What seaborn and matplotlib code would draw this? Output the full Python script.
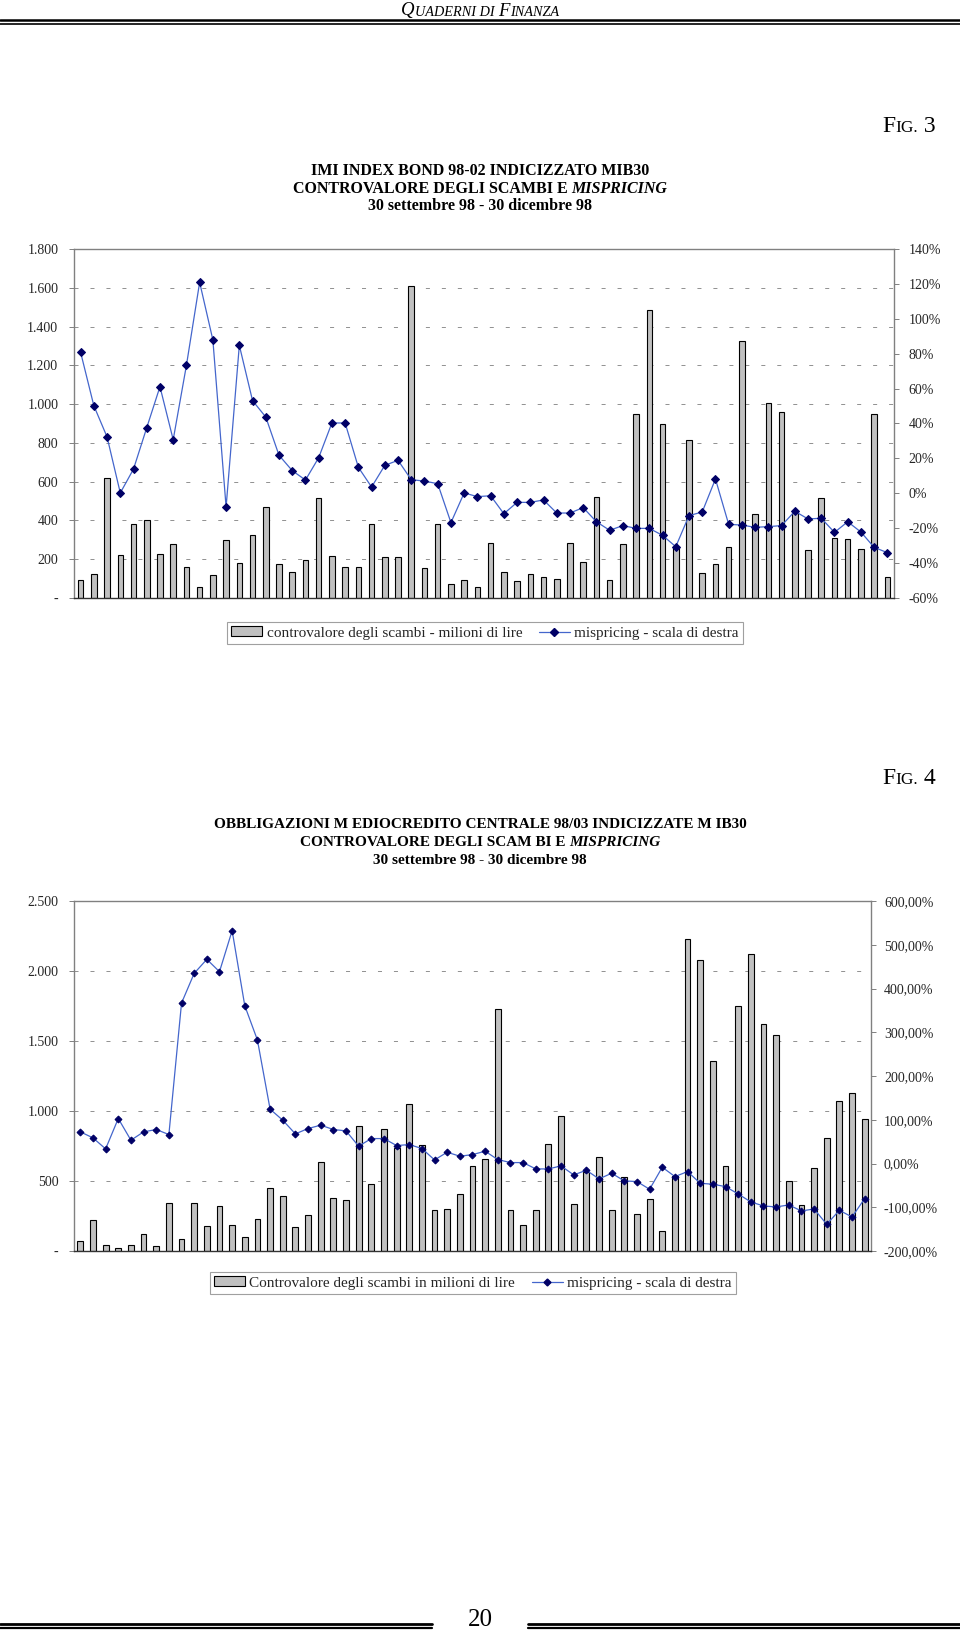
import numpy as np
import matplotlib
matplotlib.use("Agg")
import matplotlib.pyplot as plt
from matplotlib.patches import Patch
from matplotlib.lines import Line2D
from matplotlib.offsetbox import TextArea, HPacker, AnchoredOffsetbox
import seaborn as sns

# ---- data ----
# FIG. 3 - IMI Index Bond 98-02
vol3 = [91, 122, 619, 220, 380, 402, 225, 279, 158, 55,
        117, 301, 181, 323, 470, 175, 136, 194, 514, 215,
        158, 162, 380, 210, 210, 1611, 153, 380, 72, 95,
        55, 282, 136, 86, 122, 108, 100, 282, 184, 523,
        95, 279, 948, 1486, 898, 265, 817, 127, 175, 261,
        1326, 433, 1004, 960, 440, 248, 514, 308, 304, 251,
        948, 108]
mis3 = [80.8, 50.2, 32.3, 0.2, 13.9, 37.6, 61.1, 30.7, 73.3, 120.9,
        87.9, -7.9, 84.8, 53.1, 43.7, 21.8, 13.0, 7.6, 20.4, 40.3,
        40.3, 14.9, 3.6, 16.0, 18.9, 7.8, 7.0, 5.5, -16.8, 0.2,
        -1.9, -1.4, -11.7, -5.2, -5.2, -3.8, -11.3, -11.3, -8.2, -16.3,
        -21.2, -18.5, -20.1, -20.1, -24.1, -30.6, -12.8, -10.7, 8.2, -17.8,
        -18.2, -19.5, -19.1, -18.5, -10.3, -14.7, -14.3, -22.4, -16.3, -22.2,
        -31.0, -34.0]
vol3_ticks = [0, 200, 400, 600, 800, 1000, 1200, 1400, 1600, 1800]
vol3_labels = ["-", "200", "400", "600", "800", "1.000", "1.200", "1.400", "1.600", "1.800"]
mis3_ticks = [-60, -40, -20, 0, 20, 40, 60, 80, 100, 120, 140]
mis3_labels = ["-60%", "-40%", "-20%", "0%", "20%", "40%", "60%", "80%", "100%", "120%", "140%"]

# FIG. 4 - Obbligazioni Mediocredito Centrale 98/03
vol4 = [69, 224, 43, 21, 43, 124, 38, 346, 86, 346,
        176, 324, 188, 98, 231, 453, 393, 169, 255, 639,
        381, 362, 896, 477, 872, 736, 1053, 760, 291, 303,
        410, 610, 658, 1730, 295, 183, 295, 765, 963, 334,
        565, 674, 295, 531, 267, 374, 141, 534, 2226, 2076,
        1356, 608, 1752, 2124, 1625, 1542, 500, 329, 596, 808,
        1072, 1132, 946]
mis4 = [72.3, 58.6, 33.4, 102.8, 53.2, 72.3, 77.7, 66.2, 366.7, 434.6,
        466.7, 438.4, 532.3, 360.6, 282.1, 124.2, 99.0, 67.7, 79.9, 87.6,
        77.7, 74.6, 39.5, 57.0, 57.0, 41.0, 43.3, 34.2, 8.2, 25.8,
        16.6, 20.4, 28.0, 9.0, 2.1, 2.1, -12.4, -12.4, -5.5, -26.1,
        -15.4, -35.2, -22.3, -39.8, -41.3, -58.9, -8.5, -29.9, -18.5, -45.2,
        -47.4, -52.8, -69.6, -87.9, -97.0, -99.3, -94.7, -108.5, -103.9, -139.0,
        -107.0, -122.2, -80.2]
vol4_ticks = [0, 500, 1000, 1500, 2000, 2500]
vol4_labels = ["-", "500", "1.000", "1.500", "2.000", "2.500"]
mis4_ticks = [-200, -100, 0, 100, 200, 300, 400, 500, 600]
mis4_labels = ["-200,00%", "-100,00%", "0,00%", "100,00%", "200,00%",
               "300,00%", "400,00%", "500,00%", "600,00%"]

legend3 = ["controvalore degli scambi - milioni di lire", "mispricing - scala di destra"]
legend4 = ["Controvalore degli scambi in milioni di lire", "mispricing - scala di destra"]

# ---- style ----
sns.set_style("ticks")
plt.rcParams["font.family"] = ["Liberation Serif", "DejaVu Serif"]
plt.rcParams["lines.scale_dashes"] = False

BAR_FILL = "#c0c0c0"
LINE_C = "#4466cc"
MARK_C = "#000066"
FRAME_C = "#808080"
W, H = 960, 1630

fig = plt.figure(figsize=(W / 100, H / 100), dpi=100)


def fx(px):
    return px / W


def fy(py):
    return 1 - py / H


def panel(rect, vol, mis, vt, vl, mt, ml, bar_w, msize, rpad):
    ax = fig.add_axes(rect)
    n = len(vol)
    idx = np.arange(n)
    sns.barplot(x=idx, y=vol, ax=ax, color=BAR_FILL, edgecolor="black",
                linewidth=0.8, width=bar_w, saturation=1, errorbar=None)
    ax.set_axisbelow(True)
    ax.yaxis.grid(True, color="#909090", lw=0.7, linestyle=(0, (2.9, 8.6)))
    axr = ax.twinx()
    sns.lineplot(x=idx, y=mis, ax=axr, color=LINE_C, lw=0.9, marker="D",
                 markersize=msize, markerfacecolor=MARK_C, markeredgecolor=MARK_C)
    ax.set_xlim(-0.5, n - 0.5)
    ax.set_ylim(vt[0], vt[-1])
    axr.set_ylim(mt[0], mt[-1])
    ax.set_xticks([])
    ax.set_yticks(vt, vl)
    axr.set_yticks(mt, ml)
    ax.set_xlabel("")
    ax.set_ylabel("")
    axr.set_ylabel("")
    ax.tick_params(axis="y", left=True, direction="out", length=3.3, width=0.7,
                   color=FRAME_C, labelsize=10, pad=8)
    axr.tick_params(axis="y", right=True, direction="out", length=3.3, width=0.7,
                    color=FRAME_C, labelsize=10, pad=rpad)
    for s in ax.spines.values():
        s.set_visible(False)
    for k in ("top", "left", "right"):
        axr.spines[k].set_color(FRAME_C)
        axr.spines[k].set_linewidth(1.0)
    axr.spines["bottom"].set_color("#333333")
    axr.spines["bottom"].set_linewidth(1.0)
    return ax, axr


def legend(labels, center, msize):
    handles = [Patch(facecolor=BAR_FILL, edgecolor="black", linewidth=0.8),
               Line2D([], [], color=LINE_C, lw=0.9, marker="D", markersize=msize,
                      markerfacecolor=MARK_C, markeredgecolor=MARK_C)]
    lg = fig.legend(handles, labels, loc="center", bbox_to_anchor=center, ncol=2,
                    fontsize=11, frameon=True, fancybox=False, framealpha=1,
                    edgecolor="#a0a0a0", handlelength=2.0, handleheight=0.6,
                    handletextpad=0.3, columnspacing=1.1, borderpad=0.3)
    lg.get_frame().set_linewidth(0.8)


def packed(parts, xy, loc="center"):
    kids = [TextArea(t, textprops=p) for t, p in parts]
    box = HPacker(children=kids, align="baseline", pad=0, sep=0)
    anch = AnchoredOffsetbox(loc=loc, child=box, pad=0, borderpad=0, frameon=False,
                             bbox_to_anchor=xy, bbox_transform=fig.transFigure)
    fig.add_artist(anch)


def hline(x0, x1, y, lw):
    fig.add_artist(Line2D([fx(x0), fx(x1)], [fy(y), fy(y)], color="black",
                          lw=lw, transform=fig.transFigure))


# ---- page header ----
it_big = dict(size=13.5, style="italic", color="black")
it_small = dict(size=10.3, style="italic", color="black")
packed([("Q", it_big), ("UADERNI DI ", it_small), ("F", it_big), ("INANZA", it_small)],
       (fx(480), fy(11)))
hline(0, W, 20.1, 1.8)
hline(0, W, 24.4, 1.2)

# ---- FIG. 3 ----
big = dict(size=17, color="black")
small = dict(size=12.5, color="black")
packed([("F", big), ("IG.", small), (" 3", big)], (fx(936), fy(127)), loc="center right")
bold = dict(size=11.5, weight="bold", color="black")
bold_it = dict(size=11.5, weight="bold", style="italic", color="black")
fig.text(0.5, fy(171), "IMI INDEX BOND 98-02 INDICIZZATO MIB30", ha="center", va="center", **bold)
packed([("CONTROVALORE DEGLI SCAMBI E ", bold), ("MISPRICING", bold_it)], (0.5, fy(189)))
fig.text(0.5, fy(206), "30 settembre 98 - 30 dicembre 98", ha="center", va="center", **bold)

panel([fx(74), fy(598), fx(820), 349 / H], vol3, mis3, vol3_ticks, vol3_labels,
      mis3_ticks, mis3_labels, 0.42, 4.5, 7)
legend(legend3, (fx(485), fy(633)), 4.5)

# ---- FIG. 4 ----
packed([("F", big), ("IG.", small), (" 4", big)], (fx(936), fy(778)), loc="center right")
bold2 = dict(size=11, weight="bold", color="black")
bold2_it = dict(size=11, weight="bold", style="italic", color="black")
fig.text(0.5, fy(824), "OBBLIGAZIONI M EDIOCREDITO CENTRALE 98/03 INDICIZZATE M IB30",
         ha="center", va="center", **bold2)
packed([("CONTROVALORE DEGLI SCAM BI E ", bold2), ("MISPRICING", bold2_it)], (0.5, fy(843)))
fig.text(0.5, fy(861), "30 settembre 98 - 30 dicembre 98", ha="center", va="center", **bold2)

panel([fx(74), fy(1251), fx(797), 350 / H], vol4, mis4, vol4_ticks, vol4_labels,
      mis4_ticks, mis4_labels, 0.46, 3.5, 6)
legend(legend4, (fx(473), fy(1283)), 3.5)

# ---- page footer ----
fig.text(fx(480), fy(1626), "20", ha="center", va="baseline", size=18, color="black")
hline(0, 432, 1623.7, 2.0)
hline(0, 432, 1628, 1.6)
hline(528, W, 1623.7, 2.0)
hline(528, W, 1628, 1.6)

fig.savefig("out.png", dpi=100, facecolor="white")
